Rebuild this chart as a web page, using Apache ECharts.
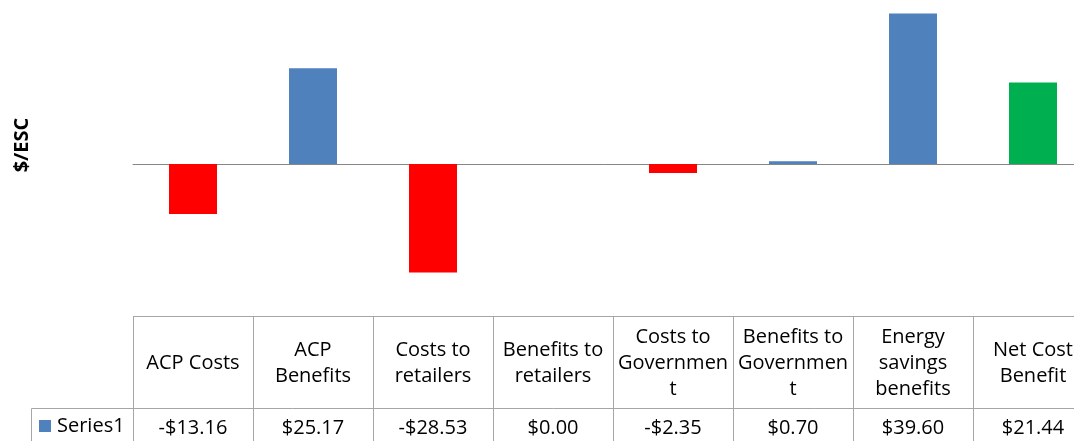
<!DOCTYPE html>
<html>
<head>
<meta charset="utf-8">
<script src="https://cdn.jsdelivr.net/npm/echarts@6/dist/echarts.min.js"></script>
<style>html,body{margin:0;padding:0;background:#fff;}#c{width:1074px;height:441px;}</style>
</head>
<body>
<div id="c"></div>
<script>
const categories = ['ACP Costs','ACP Benefits','Costs to retailers','Benefits to retailers','Costs to Government','Benefits to Government','Energy savings benefits','Net Cost Benefit'];
const headerLabels = ['ACP Costs','ACP\nBenefits','Costs to\nretailers','Benefits to\nretailers','Costs to\nGovernmen\nt','Benefits to\nGovernmen\nt','Energy\nsavings\nbenefits','Net Cost\nBenefit'];
const values = [-13.16, 25.17, -28.53, 0.00, -2.35, 0.70, 39.60, 21.44];
const seriesName = 'Series1';
const barColors = ['#FF0000','#4F81BD','#FF0000','#4F81BD','#FF0000','#4F81BD','#4F81BD','#00B050'];

function fmt(v){ return (v < 0 ? '-' : '') + '$' + Math.abs(v).toFixed(2); }
const valueLabels = values.map(fmt);

const FONT = '"Open Sans", sans-serif';
const chart = echarts.init(document.getElementById('c'), null, {renderer:'canvas'});
const option = {
  animation: false,
  backgroundColor: '#fff',
  grid: { left: 133, right: -19, top: 12, bottom: 125, containLabel: false, outerBoundsMode: 'none' },
  legend: {
    data: [seriesName], left: 39, top: 416, padding: 0, icon: 'rect',
    itemWidth: 12, itemHeight: 12, itemGap: 5,
    textStyle: { fontFamily: FONT, fontSize: 20, color: '#000', padding: [0,0,0,1] }
  },
  xAxis: [
    { type: 'category', data: categories, axisLine: { onZero: true, lineStyle: { color: '#868686', width: 1 } },
      axisTick: { show: false }, axisLabel: { show: false }, splitLine: { show: false } },
    { type: 'category', data: headerLabels, position: 'bottom', axisLine: { show: false, onZero: false },
      axisTick: { show: false }, splitLine: { show: false },
      axisLabel: { interval: 0, margin: 47, verticalAlign: 'middle', lineHeight: 26,
        fontFamily: FONT, fontSize: 20, color: '#000', hideOverlap: false } },
    { type: 'category', data: valueLabels, position: 'bottom', axisLine: { show: false, onZero: false },
      axisTick: { show: false }, splitLine: { show: false },
      axisLabel: { interval: 0, margin: 112, verticalAlign: 'middle',
        fontFamily: FONT, fontSize: 20, color: '#000', hideOverlap: false } }
  ],
  yAxis: { type: 'value', min: -40, max: 40, interval: 10, axisLine: { show: false },
    axisTick: { show: false }, axisLabel: { show: false }, splitLine: { show: false } },
  series: [{
    name: seriesName, type: 'bar', xAxisIndex: 0, barWidth: '40%',
    itemStyle: { color: '#4F81BD' },
    data: values.map((v, i) => ({ value: v, itemStyle: { color: barColors[i] } }))
  }]
};
chart.setOption(option);

// data-table grid lines & axis title
const p0 = chart.convertToPixel({ xAxisIndex: 0 }, 0);
const p1 = chart.convertToPixel({ xAxisIndex: 0 }, 1);
const band = p1 - p0;
const yBottom = Math.round(chart.convertToPixel({ yAxisIndex: 0 }, -40)) + 0.5;
const rowY = yBottom + 92;
const H = 441, W = 1074;
const lineStyle = { stroke: '#A6A6A6', lineWidth: 1 };
const els = [];
els.push({ type: 'line', shape: { x1: p0 - band/2, y1: yBottom, x2: W + 40, y2: yBottom }, style: lineStyle, silent: true });
els.push({ type: 'line', shape: { x1: 31.5, y1: rowY, x2: W + 40, y2: rowY }, style: lineStyle, silent: true });
els.push({ type: 'line', shape: { x1: 31.5, y1: rowY, x2: 31.5, y2: H + 5 }, style: lineStyle, silent: true });
for (let i = 0; i <= categories.length; i++) {
  const x = Math.round(p0 - band/2 + band * i) + 0.5;
  els.push({ type: 'line', shape: { x1: x, y1: yBottom, x2: x, y2: H + 5 }, style: lineStyle, silent: true });
}
els.push({ type: 'text', x: 22, y: 145, rotation: Math.PI / 2, silent: true,
  style: { text: '$/ESC', x: 0, y: 0, align: 'center', verticalAlign: 'middle',
    font: 'bold 20px "Open Sans", sans-serif', fill: '#000' } });
chart.setOption({ graphic: { elements: els } });
</script>
</body>
</html>
